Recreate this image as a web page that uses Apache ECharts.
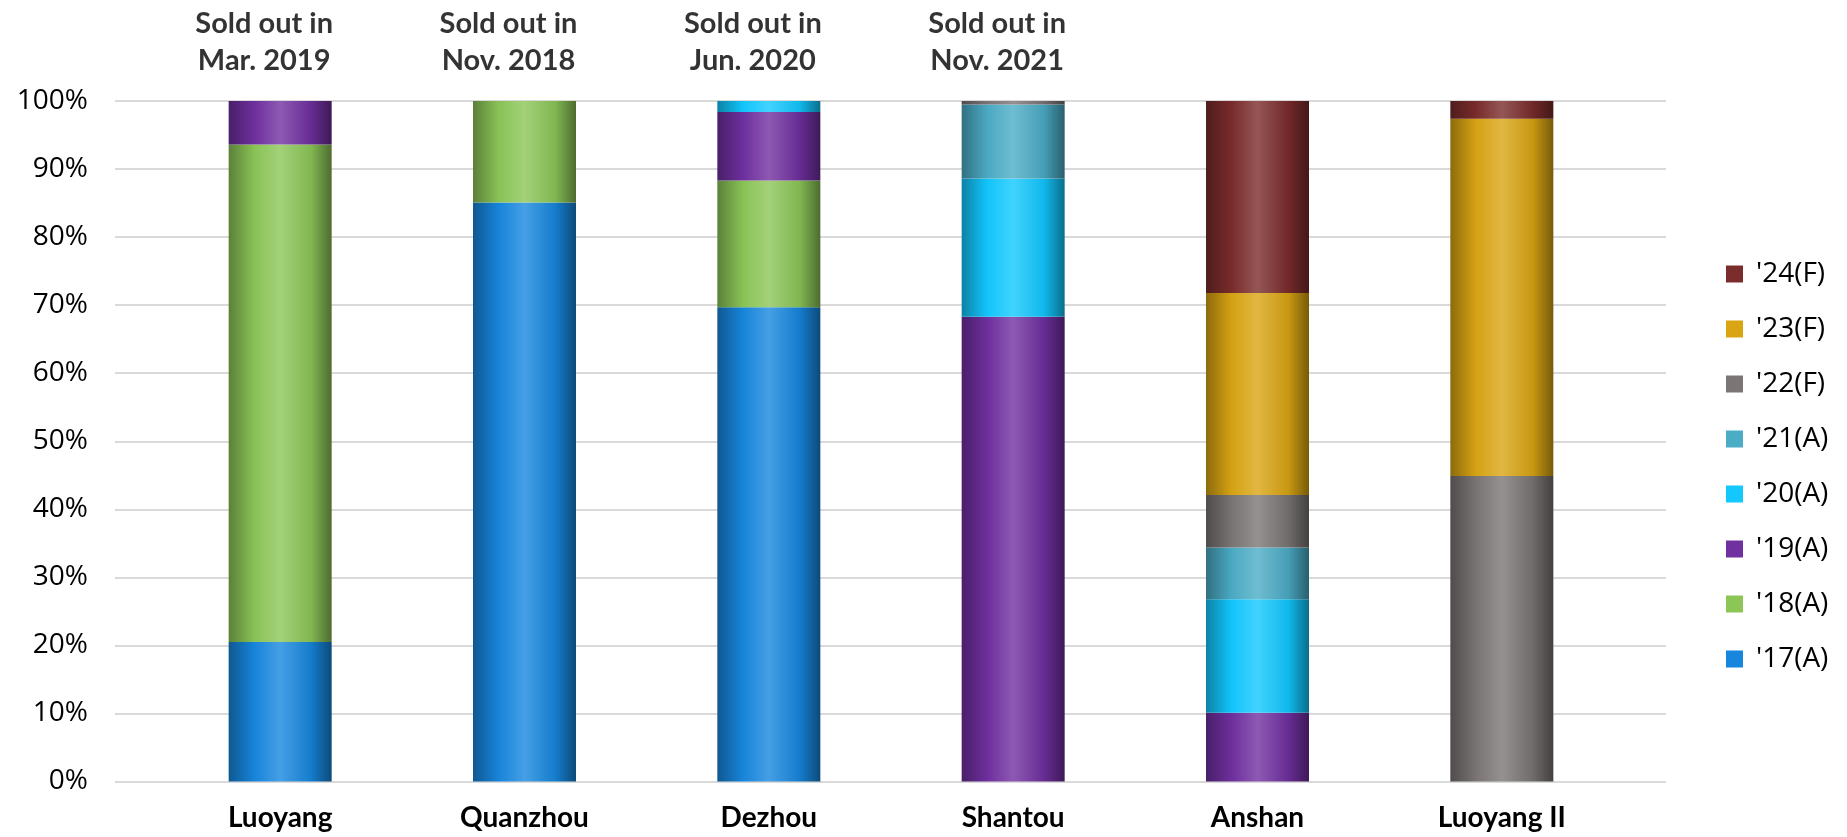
<!DOCTYPE html>
<html>
<head>
<meta charset="utf-8">
<script src="https://cdn.jsdelivr.net/npm/echarts@6/dist/echarts.min.js"></script>
<style>
  html, body { margin: 0; padding: 0; background: #fff; }
  #chart { width: 1847px; height: 837px; }
</style>
</head>
<body>
<div id="chart"></div>
<script>
var cities = ['Luoyang', 'Quanzhou', 'Dezhou', 'Shantou', 'Anshan', 'Luoyang II']
var notes = ['Sold out in\nMar. 2019', 'Sold out in\nNov. 2018', 'Sold out in\nJun. 2020', 'Sold out in\nNov. 2021', '', '']
var years = ["'17(A)", "'18(A)", "'19(A)", "'20(A)", "'21(A)", "'22(F)", "'23(F)", "'24(F)"]
var yearColors = ['#1787DE', '#8CC657', '#7030A0', '#12C8FF', '#4BACC6', '#7B7575', '#D9A513', '#7B2C2C']

// share of sales per year, in %
var s17 = [20.5, 85.1, 69.7, 0, 0, 0]
var s18 = [73.1, 14.9, 18.6, 0, 0, 0]
var s19 = [6.4, 0, 10.1, 68.3, 10.1, 0]
var s20 = [0, 0, 1.6, 20.3, 16.7, 0]
var s21 = [0, 0, 0, 10.9, 7.6, 0]
var s22 = [0, 0, 0, 0.5, 7.7, 44.9]
var s23 = [0, 0, 0, 0, 29.7, 52.5]
var s24 = [0, 0, 0, 0, 28.2, 2.6]
var shares = [s17, s18, s19, s20, s21, s22, s23, s24]

var yTicks = [0, 10, 20, 30, 40, 50, 60, 70, 80, 90, 100]

// lighten (f > 0) or darken (f < 0) a hex colour
function shade(hex, f) {
  var n = parseInt(hex.slice(1), 16)
  var c = [(n >> 16) & 255, (n >> 8) & 255, n & 255].map(function (v) {
    v = f < 0 ? v * (1 + f) : v + (255 - v) * f
    return Math.round(v)
  })
  return 'rgb(' + c.join(',') + ')'
}

function cylinder(hex) {
  return new echarts.graphic.LinearGradient(0, 0, 1, 0, [
    { offset: 0, color: shade(hex, -0.35) },
    { offset: 0.25, color: shade(hex, -0.02) },
    { offset: 0.5, color: shade(hex, 0.2) },
    { offset: 0.8, color: shade(hex, -0.08) },
    { offset: 1, color: shade(hex, -0.45) }
  ])
}

var chart = echarts.init(document.getElementById('chart'))

var series = years.map(function (y, i) {
  return {
    name: y,
    type: 'bar',
    stack: 'all',
    xAxisIndex: 0,
    yAxisIndex: 0,
    barWidth: 103,
    data: shares[i],
    itemStyle: { color: cylinder(yearColors[i]) },
    emphasis: { disabled: true }
  }
})

// notes above the bars
series.push({
  type: 'scatter',
  xAxisIndex: 0,
  yAxisIndex: 0,
  symbolSize: 0,
  silent: true,
  data: notes.map(function (t, i) { return t ? [cities[i], 100] : null }),
  label: {
    show: true,
    position: 'top',
    distance: 22,
    offset: [-16, 0],
    align: 'center',
    fontFamily: 'Lato',
    fontWeight: 'bold',
    fontSize: 29,
    lineHeight: 37,
    color: '#000',
    formatter: function (p) { return notes[p.dataIndex] }
  }
})

var option = {
  animation: false,
  backgroundColor: '#fff',
  grid: [
    { left: 158, right: 223, top: 101, bottom: 55.5 },
    { left: 115, right: 181, top: 101, bottom: 55.5 }
  ],
  legend: {
    orient: 'vertical',
    left: 1726,
    top: 260,
    padding: 0,
    itemWidth: 17,
    itemHeight: 17,
    itemGap: 27,
    icon: 'rect',
    selectedMode: false,
    textStyle: { fontFamily: 'Open Sans', fontSize: 28, color: '#000', padding: [0, 0, 0, 8] },
    data: years.slice().reverse().map(function (y) {
      return { name: y, itemStyle: { color: yearColors[years.indexOf(y)] } }
    })
  },
  xAxis: [
    {
      type: 'category',
      gridIndex: 0,
      data: cities,
      axisLine: { show: false },
      axisTick: { show: false },
      axisLabel: {
        margin: 22,
        fontFamily: 'Lato',
        fontWeight: 'bold',
        fontSize: 28,
        color: '#000'
      }
    },
    {
      type: 'category',
      gridIndex: 1,
      data: cities,
      show: false
    }
  ],
  yAxis: [
    {
      type: 'value',
      gridIndex: 0,
      min: 0,
      max: 100,
      interval: 10,
      show: false
    },
    {
      type: 'value',
      gridIndex: 1,
      min: yTicks[0],
      max: yTicks[yTicks.length - 1],
      interval: 10,
      axisLine: { show: false },
      axisTick: { show: false },
      splitLine: { lineStyle: { color: '#D9D9D9', width: 2 } },
      axisLabel: {
        margin: 27,
        fontFamily: 'Open Sans',
        fontSize: 28,
        color: '#000',
        formatter: '{value}%'
      }
    }
  ],
  series: series
}

chart.setOption(option)
</script>
</body>
</html>
